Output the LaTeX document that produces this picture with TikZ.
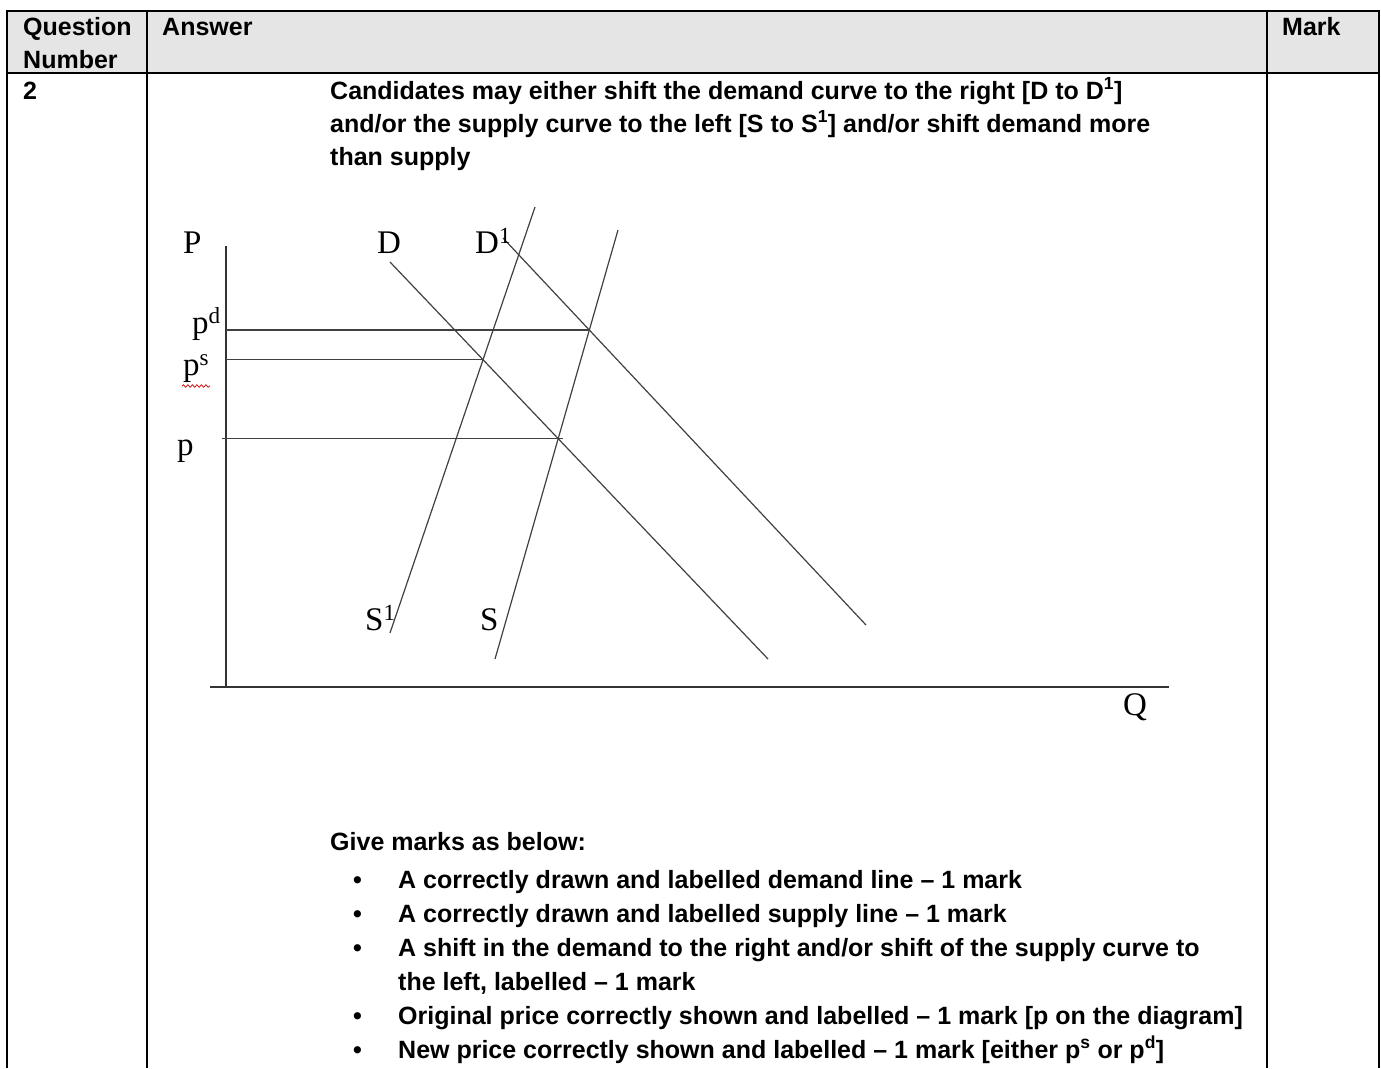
\documentclass[tikz,border=0pt]{standalone}
\usepackage{fontspec}
\setmainfont{Liberation Sans}
\newfontfamily\graphfont{Liberation Serif}
\usetikzlibrary{decorations.pathmorphing}

\begin{document}
\begin{tikzpicture}[
    x=1pt, y=-1pt,
    rule/.style={line width=2.2pt, draw=black},
    cell/.style={anchor=base west, inner sep=0pt, font=\fontsize{25}{33}\selectfont\bfseries},
    axis/.style={line width=1.8pt, draw=black!80},
    curve/.style={line width=1.2pt, draw=black!75},
    glabel/.style={anchor=base west, inner sep=0pt, font=\graphfont\fontsize{33}{33}\selectfont},
    spell/.style={draw=red!80!black, line width=0.7pt, decorate, decoration={snake, amplitude=1.3pt, segment length=4.5pt}}
]
\useasboundingbox (0,0) rectangle (1381,1068);

% Table frame and header row
\fill[black!10] (7,11) rectangle (1379,73);
\draw[rule] (7,1068) -- (7,11) -- (1379,11) -- (1379,1068);
\draw[rule] (7,73) -- (1379,73);
\draw[rule] (147,11) -- (147,1068);
\draw[rule] (1267,11) -- (1267,1068);

\node[cell] (hq) at (23,35) {Question};
\node[cell] (hn) at (23,68) {Number};
\node[cell] (ha) at (162,35) {Answer};
\node[cell] (hm) at (1282,35) {Mark};
\node[cell] (qno) at (23,99) {2};

% Answer text
\node[cell] (la) at (330,99) {Candidates may either shift the demand curve to the right [D to D\textsuperscript{1}]};
\node[cell] (lb) at (330,132) {and/or the supply curve to the left [S to S\textsuperscript{1}] and/or shift demand more};
\node[cell] (lc) at (330,165) {than supply};

% Diagram: axes
\coordinate (o) at (226,687);
\coordinate (ytop) at (226,246);
\coordinate (xleft) at (210,687);
\coordinate (xright) at (1169,687);
\draw[axis] (ytop) -- (o);
\draw[axis] (xleft) -- (xright);

% Demand and supply lines
\coordinate (d1) at (390,262);
\coordinate (d2) at (768,659);
\coordinate (dd1) at (503,238);
\coordinate (dd2) at (866,625);
\coordinate (ss1) at (535,207);
\coordinate (ss2) at (390,633);
\coordinate (s1) at (618,230);
\coordinate (s2) at (495,659);
\draw[curve] (d1) -- (d2);
\draw[curve] (dd1) -- (dd2);
\draw[curve] (ss1) -- (ss2);
\draw[curve] (s1) -- (s2);

% Price levels
\coordinate (eqd) at (intersection of dd1--dd2 and s1--s2);
\coordinate (eqs) at (intersection of d1--d2 and ss1--ss2);
\coordinate (eq) at (intersection of d1--d2 and s1--s2);
\draw[curve] (o |- eqd) -- (eqd);
\draw[curve] (o |- eqs) -- (eqs);
\draw[curve] (o |- eq) ++(-4,0) -- ([xshift=5pt]eq);

% Labels
\node[glabel] (plab) at (183,253) {P};
\node[glabel] (dlab) at (377,253) {D};
\node[glabel] (ddlab) at (475,253) {D\textsuperscript{1}};
\node[glabel] (pdlab) at (192,333) {p\textsuperscript{d}};
\node[glabel] (pslab) at (183,375) {p\textsuperscript{s}};
\node[glabel] (plow) at (177,455) {p};
\node[glabel] (sslab) at (365,630) {S\textsuperscript{1}};
\node[glabel] (slab) at (480,630) {S};
\node[glabel] (qlab) at (1123,715) {Q};
\draw[spell] (182,386) -- (210,386);

% Marking points
\node[cell] (give) at (330,850) {Give marks as below:};
\foreach \y in {888,922,956,1024,1058}
  \node[cell] (b\y) at (353,\y) {\textbullet};
\node[cell] (ta) at (398,888) {A correctly drawn and labelled demand line – 1 mark};
\node[cell] (tb) at (398,922) {A correctly drawn and labelled supply line – 1 mark};
\node[cell] (tc) at (398,956) {A shift in the demand to the right and/or shift of the supply curve to};
\node[cell] (tc2) at (398,990) {the left, labelled – 1 mark};
\node[cell] (td) at (398,1024) {Original price correctly shown and labelled – 1 mark [p on the diagram]};
\node[cell] (te) at (398,1058) {New price correctly shown and labelled – 1 mark [either p\textsuperscript{s} or p\textsuperscript{d}]};

\end{tikzpicture}
\end{document}
